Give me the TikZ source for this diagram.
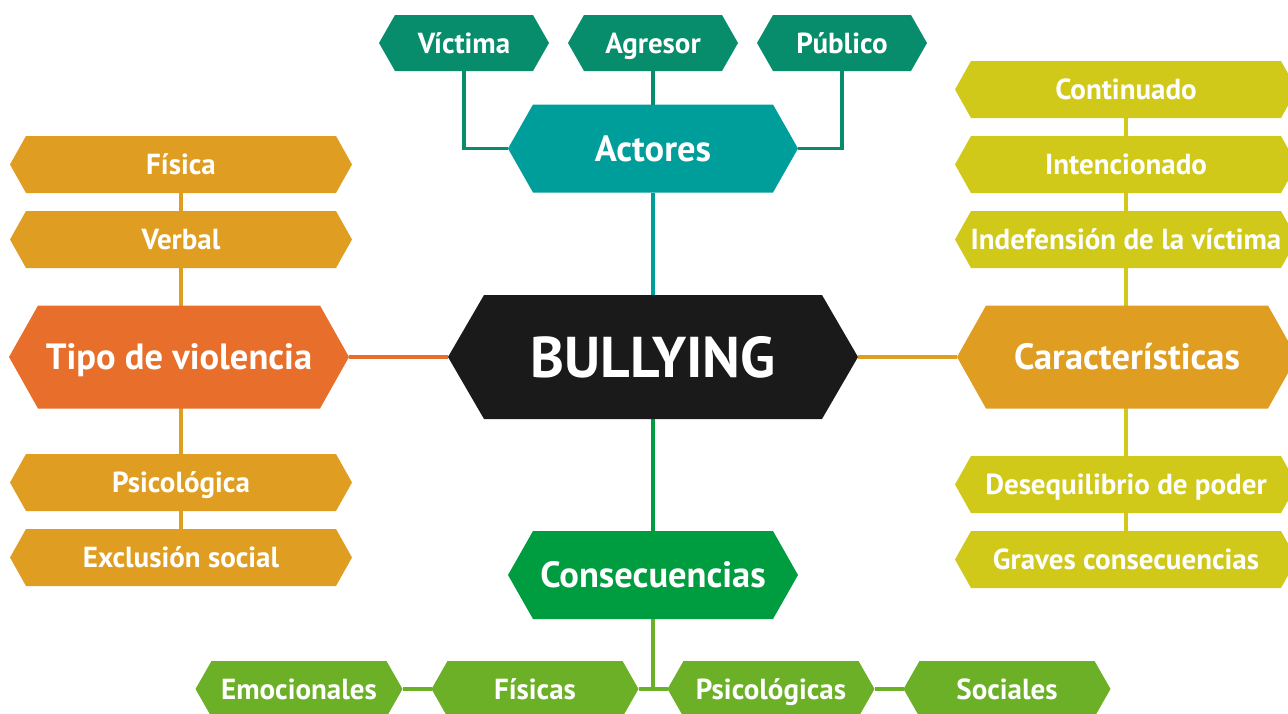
\documentclass[tikz,border=0pt]{standalone}
\usepackage{fontspec}
\setmainfont{PT Sans}
\pgfdeclarelayer{back}
\pgfdeclarelayer{bg}
\pgfsetlayers{back,bg,main}
\definecolor{cTop}{HTML}{078C6C}
\definecolor{cAct}{HTML}{009E9B}
\definecolor{cBul}{HTML}{1A1A1A}
\definecolor{cTipo}{HTML}{E76F2B}
\definecolor{cGold}{HTML}{DF9E22}
\definecolor{cLime}{HTML}{D0C91A}
\definecolor{cCons}{HTML}{009C40}
\definecolor{cLeaf}{HTML}{6BB026}
\tikzset{
  box/.style={rectangle, inner sep=0pt, outer sep=0pt, text=white,
    font=\bfseries\fontsize{29}{31}\selectfont, text height=20.3pt, text depth=0pt},
  hrow/.style={box, minimum width=170pt, minimum height=56pt},
  hcol/.style={box, minimum width=342pt, minimum height=57pt},
  hbot/.style={box, minimum width=207pt, minimum height=56pt},
  hbig/.style={box, font=\bfseries\fontsize{36.5}{38}\selectfont, text height=25.5pt,
    minimum width=290pt, minimum height=88pt},
  hside/.style={box, font=\bfseries\fontsize{36.5}{38}\selectfont, text height=25.5pt,
    minimum width=340pt, minimum height=103pt},
  hcore/.style={box, font=\bfseries\fontsize{57.5}{60}\selectfont, text height=40.2pt,
    minimum width=410pt, minimum height=124pt},
  link/.style={line width=3.5pt},
}
\newcommand\hexfill[3]{%
  \fill[#2] (#1.west) -- ([xshift=#3]#1.north west) -- ([xshift=-#3]#1.north east)
    -- (#1.east) -- ([xshift=-#3]#1.south east) -- ([xshift=#3]#1.south west) -- cycle;}
\begin{document}
\begin{tikzpicture}[x=1pt, y=-1pt]
\useasboundingbox (0,0) rectangle (1288,713);
\begin{pgfonlayer}{back}
  \fill[white] (0,0) rectangle (1288,713);
\end{pgfonlayer}
\clip (0,0) rectangle (1288,713);
% core
\node[hcore] (bul) at (653,357) {BULLYING};
% actores
\node[hbig] (act) at (653,148.5) {Actores};
\node[hrow] (vic) at (464,43) {Víctima};
\node[hrow] (agr) at (653,43) {Agresor};
\node[hrow] (pub) at (842,43) {Público};
% tipo de violencia
\node[hside] (tipo) at (179,357) {Tipo de violencia};
\node[hcol] (fis) at (181,164.5) {Física};
\node[hcol] (ver) at (181,239.5) {Verbal};
\node[hcol] (psi) at (181,482.5) {Psicológica};
\node[hcol] (exc) at (181,557.5) {Exclusión social};
% caracteristicas
\node[hside] (car) at (1127,357) {Características};
\node[hcol] (con) at (1126,89.5) {Continuado};
\node[hcol] (int) at (1126,164.5) {Intencionado};
\node[hcol] (ind) at (1126,239.5) {Indefensión de la víctima};
\node[hcol] (des) at (1126,484.5) {Desequilibrio de poder};
\node[hcol] (gra) at (1126,559.5) {Graves consecuencias};
% consecuencias
\node[hbig] (cns) at (653,575) {Consecuencias};
\node[hbot] (emo) at (299,689) {Emocionales};
\node[hbot] (fsc) at (535,689) {Físicas};
\node[hbot] (psc) at (771,689) {Psicológicas};
\node[hbot] (soc) at (1007,689) {Sociales};
\begin{pgfonlayer}{bg}
  % connectors
  \draw[link, cTop] (vic.south) |- (act.west);
  \draw[link, cTop] (pub.south) |- (act.east);
  \draw[link, cTop] (agr.south) -- (agr.south |- act.north);
  \draw[link, cAct] (act.south) -- (bul.north);
  \draw[link, cTipo] (tipo.east) -- (bul.west);
  \draw[link, cGold] (bul.east) -- (car.west);
  \draw[link, cGold] (fis.center) -- (fis.center |- exc.center);
  \draw[link, cLime] (con.center) -- (con.center |- gra.center);
  \draw[link, cCons] (bul.south) -- (cns.north);
  \draw[link, cLeaf] (cns.south) -- (cns.south |- fsc.east);
  \draw[link, cLeaf] (emo.east) -- (fsc.west);
  \draw[link, cLeaf] (fsc.east) -- (psc.west);
  \draw[link, cLeaf] (psc.east) -- (soc.west);
  % hexagons
  \hexfill{bul}{cBul}{36pt}
  \hexfill{act}{cAct}{25pt}
  \hexfill{cns}{cCons}{25pt}
  \hexfill{vic}{cTop}{16pt}
  \hexfill{agr}{cTop}{16pt}
  \hexfill{pub}{cTop}{16pt}
  \hexfill{tipo}{cTipo}{29pt}
  \hexfill{car}{cGold}{29pt}
  \hexfill{fis}{cGold}{16pt}
  \hexfill{ver}{cGold}{16pt}
  \hexfill{psi}{cGold}{16pt}
  \hexfill{exc}{cGold}{16pt}
  \hexfill{con}{cLime}{16pt}
  \hexfill{int}{cLime}{16pt}
  \hexfill{ind}{cLime}{16pt}
  \hexfill{des}{cLime}{16pt}
  \hexfill{gra}{cLime}{16pt}
  \hexfill{emo}{cLeaf}{16pt}
  \hexfill{fsc}{cLeaf}{16pt}
  \hexfill{psc}{cLeaf}{16pt}
  \hexfill{soc}{cLeaf}{16pt}
\end{pgfonlayer}
\end{tikzpicture}
\end{document}
